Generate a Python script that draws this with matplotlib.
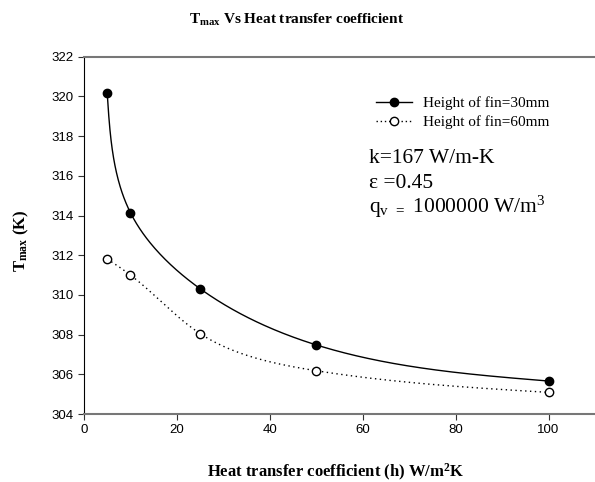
import numpy as np
import matplotlib.pyplot as plt

# data
h = [5, 10, 25, 50, 100]
t_fin30 = [320.15, 314.14, 310.31, 307.48, 305.66]
t_fin60 = [311.81, 311.0, 308.05, 306.18, 305.09]
x_ticks = [0, 20, 40, 60, 80, 100]
y_ticks = [304, 306, 308, 310, 312, 314, 316, 318, 320, 322]


def natural_spline(t, y, tt):
    t = np.asarray(t, float)
    y = np.asarray(y, float)
    k = len(t)
    dt = np.diff(t)
    A = np.zeros((k, k))
    b = np.zeros(k)
    A[0, 0] = A[-1, -1] = 1
    for i in range(1, k - 1):
        A[i, i - 1] = dt[i - 1]
        A[i, i] = 2 * (dt[i - 1] + dt[i])
        A[i, i + 1] = dt[i]
        b[i] = 6 * ((y[i + 1] - y[i]) / dt[i] - (y[i] - y[i - 1]) / dt[i - 1])
    m = np.linalg.solve(A, b)
    i = np.clip(np.searchsorted(t, tt, side='right') - 1, 0, k - 2)
    s = tt - t[i]
    hh = dt[i]
    c = (y[i + 1] - y[i]) / hh - hh * (2 * m[i] + m[i + 1]) / 6
    return y[i] + c * s + m[i] / 2 * s**2 + (m[i + 1] - m[i]) / (6 * hh) * s**3


# parametric spline on screen-scaled coordinates (chord length)
def smooth(x, y, sx=4.65, sy=19.85, n=400):
    x = np.asarray(x, float)
    y = np.asarray(y, float)
    px, py = x * sx, y * sy
    t = np.concatenate([[0], np.cumsum(np.hypot(np.diff(px), np.diff(py)))])
    tt = np.linspace(0, t[-1], n)
    return natural_spline(t, px, tt) / sx, natural_spline(t, py, tt) / sy


serif = ['Liberation Serif', 'DejaVu Serif']
sans = ['Liberation Sans', 'DejaVu Sans']

fig = plt.figure(figsize=(5.95, 4.82), dpi=100)
ax = fig.add_axes([84 / 595, 1 - 414 / 482, 511 / 595, (414 - 56.7) / 482])

xs, ys = smooth(h, t_fin30)
ax.plot(xs, ys, color='black', lw=1)
xs, ys = smooth(h, t_fin60)
ax.plot(xs, ys, color='black', lw=1, ls=(0, (1, 2.5)))
ax.plot(h, t_fin30, 'o', color='black', ms=6, zorder=3)
ax.plot(h, t_fin60, 'o', mfc='white', mec='black', ms=6, mew=1, zorder=3)

# legend handles
l1, = ax.plot([], [], '-o', color='black', lw=1, ms=6)
l2, = ax.plot([], [], 'o', mfc='white', mec='black', ms=6, color='black', lw=1, ls=(0, (1, 2)))
ax.legend([l1, l2], ['Height of fin=30mm', 'Height of fin=60mm'],
          loc='upper left', bbox_to_anchor=(0.571, 0.888), frameon=False,
          prop={'family': serif, 'size': 11}, handlelength=2.35,
          handletextpad=0.75, labelspacing=0.3, borderpad=0, borderaxespad=0)

ax.set_xlim(0, 110)
ax.set_ylim(304, 322)
ax.set_xticks(x_ticks)
ax.set_yticks(y_ticks)
for lab in ax.get_xticklabels() + ax.get_yticklabels():
    lab.set_family(sans)
    lab.set_fontsize(9.5)
ax.tick_params(direction='out', length=4, width=0.8, color='#333333')

ax.spines['right'].set_visible(False)
ax.spines['top'].set_color('#777777')
ax.spines['top'].set_linewidth(1.5)
ax.spines['bottom'].set_color('#777777')
ax.spines['bottom'].set_linewidth(1.5)
ax.spines['left'].set_color('black')

# annotation block
fig.text(369 / 595, 1 - 159 / 482, 'k=167 W/m-K', family=serif, fontsize=15.5, va='center')
fig.text(369 / 595, 1 - 184 / 482, '\u03b5 =0.45', family=serif, fontsize=15.5, va='center')
fig.text(369 / 595, 1 - 207 / 482, r'q$\mathregular{_{v\ =}}$ 1000000 W/m$\mathregular{^3}$',
         family=serif, fontsize=15.5, va='center')

fig.text(297 / 595, 1 - 20 / 482, r'T$\mathregular{_{max}}$ Vs Heat transfer coefficient',
         family=serif, fontsize=11, weight='bold', ha='center', va='center')
fig.text(336 / 595, 1 - 472 / 482, r'Heat transfer coefficient (h) W/m$\mathregular{^2}$K',
         family=serif, fontsize=12, weight='bold', ha='center', va='center')
fig.text(21 / 595, 1 - 241 / 482, r'T$\mathregular{_{max}}$ (K)',
         family=serif, fontsize=12, weight='bold', ha='center', va='center', rotation=90)

fig.savefig('out.png', dpi=100)
